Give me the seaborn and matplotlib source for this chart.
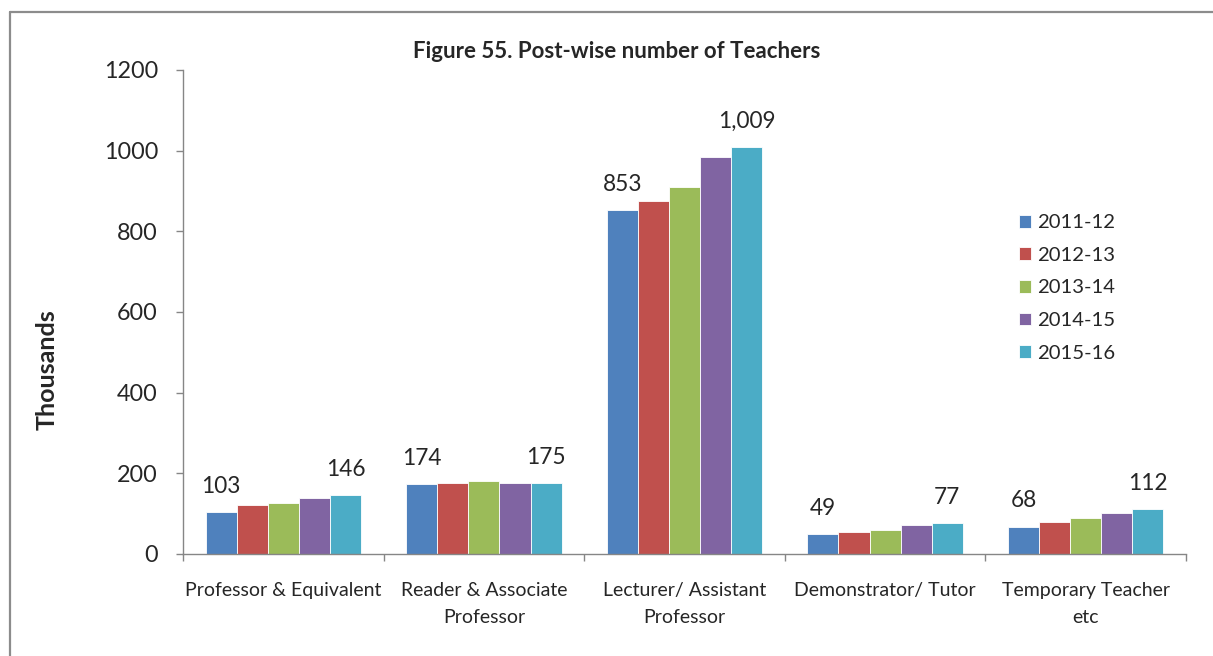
import pandas as pd
import seaborn as sns
import matplotlib.pyplot as plt
from matplotlib.lines import Line2D

# data (thousands of teachers)
posts = ['Professor & Equivalent', 'Reader & Associate\nProfessor', 'Lecturer/ Assistant\nProfessor',
         'Demonstrator/ Tutor', 'Temporary Teacher\netc']
years = ['2011-12', '2012-13', '2013-14', '2014-15', '2015-16']
v2011 = [103, 174, 853, 49, 68]
v2012 = [121, 176, 876, 54, 79]
v2013 = [126, 182, 911, 59, 89]
v2014 = [138, 177, 985, 72, 102]
v2015 = [146, 175, 1009, 77, 112]
colors = ['#4F81BD', '#C0504D', '#9BBB59', '#8064A2', '#4BACC6']

series = [v2011, v2012, v2013, v2014, v2015]
rows = []
for yr, vals in zip(years, series):
    for p, v in zip(posts, vals):
        rows.append({'post': p, 'year': yr, 'value': v})
df = pd.DataFrame(rows)

sns.set_theme(style="white")
plt.rcParams['font.family'] = ['Lato', 'DejaVu Sans']

fig = plt.figure(figsize=(12.13, 6.56), dpi=100)
ax = fig.add_axes([183/1213, 1-554/656, (1186-183)/1213, (554-70)/656])

sns.barplot(data=df, x='post', y='value', hue='year', order=posts, hue_order=years,
            palette=colors, width=0.775, gap=0, saturation=1,
            edgecolor='white', linewidth=0.6, ax=ax)

# labels only on first and last year
for i, cont in enumerate(ax.containers):
    if i == 0 or i == len(years) - 1:
        labs = [f'{v:,}' for v in series[i]]
    else:
        labs = [''] * len(posts)
    ax.bar_label(cont, labels=labs, padding=11, fontsize=16.3)

ax.set_ylim(0, 1200)
ax.set_xlim(-0.5, len(posts) - 0.5)
ax.set_yticks(range(0, 1201, 200))
ax.set_xlabel('')
ax.set_ylabel('')
ax.tick_params(axis='y', labelsize=16.8, length=5, width=1, color='#868686', direction='out',
               left=True, pad=13)
ax.tick_params(axis='x', which='major', labelsize=14, length=0, pad=20)
ax.set_xticks([i - 0.5 for i in range(len(posts) + 1)], minor=True)
ax.tick_params(axis='x', which='minor', length=5, width=1, color='#868686', direction='out',
               bottom=True)
for t in ax.get_xticklabels():
    t.set_linespacing(1.75)

sns.despine(ax=ax)
for s in ['left', 'bottom']:
    ax.spines[s].set_color('#868686')
    ax.spines[s].set_linewidth(1)

ax.legend(loc='center left', bbox_to_anchor=(1019/1213, 1-288/656),
          bbox_transform=fig.transFigure, frameon=False, fontsize=14.6,
          handlelength=0.6, handleheight=0.6, handletextpad=0.3,
          labelspacing=0.77, borderpad=0, borderaxespad=0)

fig.text(617/1213, 1-51/656, 'Figure 55. Post-wise number of Teachers',
         ha='center', va='center', fontsize=16, fontweight='bold')
fig.text(47/1213, 1-370/656, 'Thousands', rotation=90, ha='center', va='center',
         fontsize=18, fontweight='bold')

# outer chart frame
fig.add_artist(Line2D([10/1213, 10/1213], [0, 1-12/656], transform=fig.transFigure,
                      color='#8c8c8c', lw=1.6))
fig.add_artist(Line2D([10/1213, 1], [1-12/656, 1-12/656], transform=fig.transFigure,
                      color='#8c8c8c', lw=1.6))

plt.savefig('out.png', dpi=100)
